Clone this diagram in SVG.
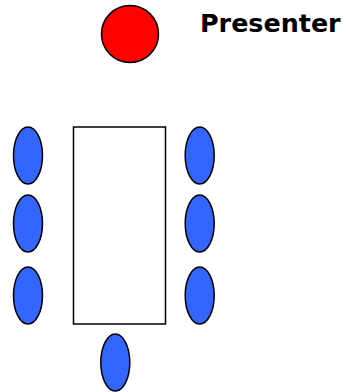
<svg xmlns="http://www.w3.org/2000/svg" width="347" height="392" viewBox="0 0 347 392">
<style>
.seat{fill:#3366ff;stroke:#000;stroke-width:1.5}
.lbl{font-family:"DejaVu Sans",Verdana,sans-serif;font-weight:bold;font-size:25.4px;fill:#000}
</style>
<rect width="347" height="392" fill="#fff"/>
<g id="presenter">
<circle cx="130" cy="34" r="28.5" fill="#ff0000" stroke="#000" stroke-width="1.5"/>
<text class="lbl" x="200" y="32.3">Presenter</text>
</g>
<g id="table"><rect x="73.5" y="127" width="92" height="197" fill="#fff" stroke="#000" stroke-width="1.5"/></g>
<g id="seat-l1"><ellipse class="seat" cx="28" cy="155.5" rx="14.5" ry="28.5"/></g>
<g id="seat-l2"><ellipse class="seat" cx="28" cy="223.5" rx="14.5" ry="28.5"/></g>
<g id="seat-l3"><ellipse class="seat" cx="28" cy="295.5" rx="14.5" ry="28.5"/></g>
<g id="seat-r1"><ellipse class="seat" cx="199.7" cy="155.5" rx="14.5" ry="28.5"/></g>
<g id="seat-r2"><ellipse class="seat" cx="199.7" cy="223.5" rx="14.5" ry="28.5"/></g>
<g id="seat-r3"><ellipse class="seat" cx="199.7" cy="295.5" rx="14.5" ry="28.5"/></g>
<g id="seat-b"><ellipse class="seat" cx="115.3" cy="362.5" rx="14.5" ry="28.5"/></g>
<g id="connectors"/>
</svg>
